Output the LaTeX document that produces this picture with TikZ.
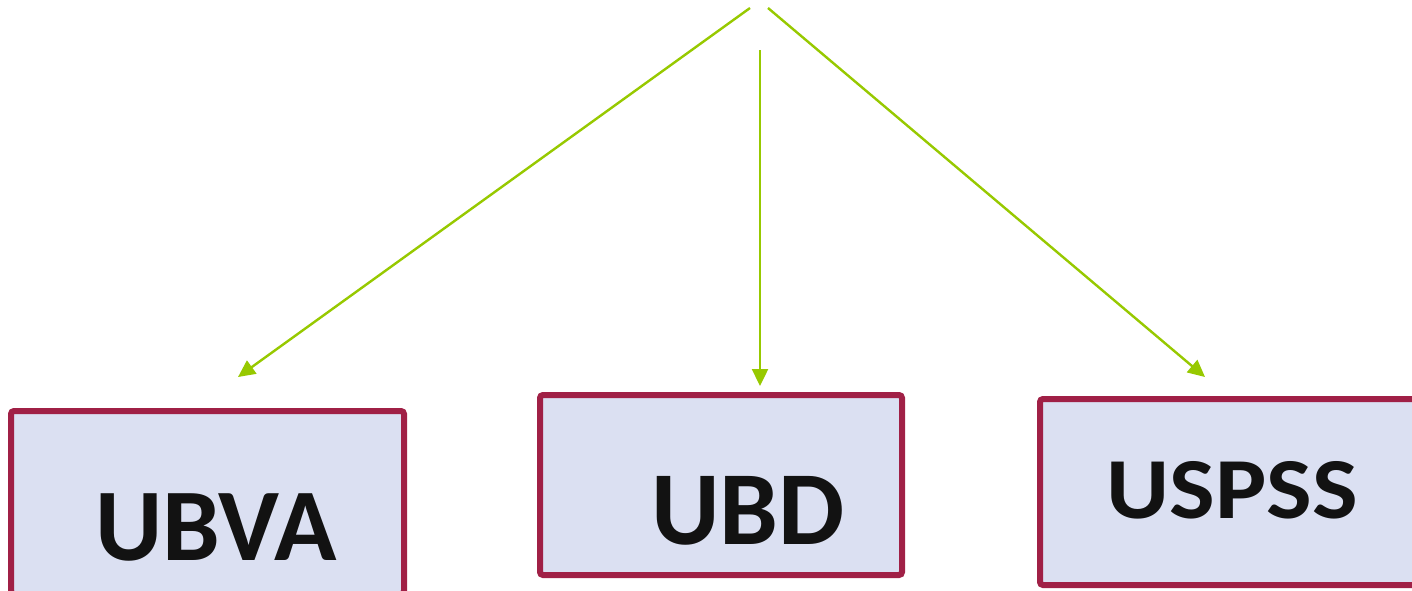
\documentclass[tikz,border=0pt]{standalone}
\usepackage{fontspec}
\setmainfont{Carlito}
\usetikzlibrary{arrows.meta}
\definecolor{leaf}{RGB}{151,201,0}
\definecolor{wine}{RGB}{160,32,70}
\definecolor{pale}{RGB}{219,224,242}

\begin{document}
\begin{tikzpicture}[x=1pt,y=-1pt,
    unit/.style={draw=wine, line width=6pt, fill=pale, rounded corners=3pt, inner sep=0pt},
    tag/.style={text=black!93, inner sep=0pt},
    feed/.style={leaf, line width=2.4pt, -{Triangle[length=17pt,width=16pt]}}]
    \useasboundingbox (0,0) rectangle (1412,590);

    % the three boxes
    \node[unit, minimum width=393pt, minimum height=183pt] (ubva) at (207.5,502.5) {};
    \node[unit, minimum width=362pt, minimum height=180pt] (ubd) at (721,485) {};
    \node[unit, minimum width=385pt, minimum height=186pt] (uspss) at (1232.5,492) {};

    % their labels
    \node[tag, font=\fontsize{103}{103}\selectfont\bfseries] (ubvaT) at (216,527) {UBVA};
    \node[tag, font=\fontsize{105}{105}\selectfont\bfseries] (ubdT) at (748,511) {UBD};
    \node[tag, font=\fontsize{87}{87}\selectfont\bfseries] (uspssT) at (1232,490) {\scalebox{1.11}[1]{USPSS}};

    % arrows from the top
    \coordinate (srcL) at (750,8);
    \coordinate (srcM) at (760,50);
    \coordinate (srcR) at (768,8);
    \coordinate (tipL) at (238,377);
    \coordinate (tipM) at (760,386);
    \coordinate (tipR) at (1205,377);
    \draw[feed] (srcL) -- (tipL);
    \draw[feed] (srcM) -- (tipM);
    \draw[feed] (srcR) -- (tipR);
\end{tikzpicture}
\end{document}
